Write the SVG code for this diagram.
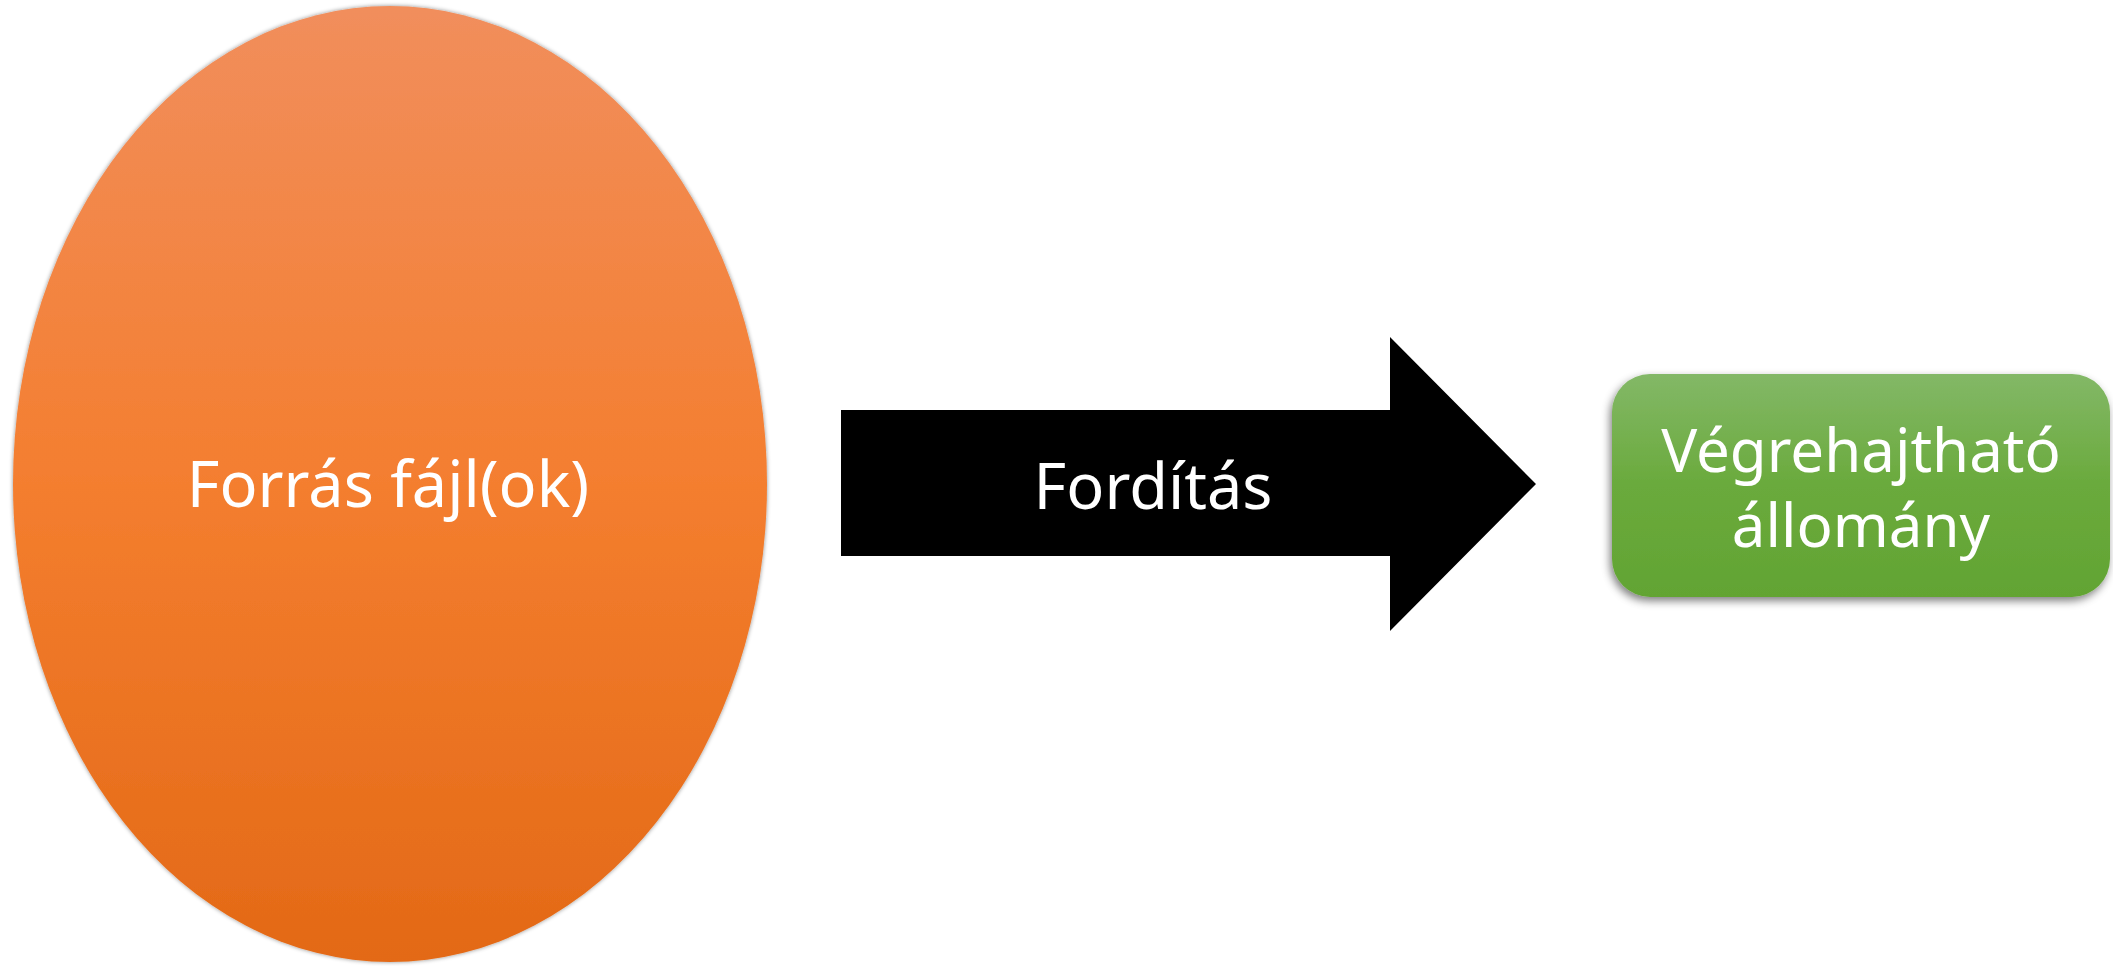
<svg xmlns="http://www.w3.org/2000/svg" width="2113" height="966" viewBox="0 0 2113 966">
<defs>
<linearGradient id="gOrange" x1="0" y1="0" x2="0" y2="1">
<stop offset="0" stop-color="#F18E5C"/>
<stop offset="0.5" stop-color="#F47E2F"/>
<stop offset="1" stop-color="#E36916"/>
</linearGradient>
<linearGradient id="gGreen" x1="0" y1="0" x2="0" y2="1">
<stop offset="0" stop-color="#83B867"/>
<stop offset="0.5" stop-color="#6AAA3C"/>
<stop offset="1" stop-color="#62A433"/>
</linearGradient>
<filter id="soft" x="-5%" y="-5%" width="110%" height="110%">
<feGaussianBlur in="SourceAlpha" stdDeviation="2"/>
<feOffset dx="0" dy="0" result="b"/>
<feFlood flood-color="#000" flood-opacity="0.45"/>
<feComposite in2="b" operator="in"/>
<feMerge><feMergeNode/><feMergeNode in="SourceGraphic"/></feMerge>
</filter>
<filter id="shadow" x="-10%" y="-10%" width="120%" height="130%">
<feGaussianBlur in="SourceAlpha" stdDeviation="4"/>
<feOffset dx="-2" dy="4" result="b"/>
<feFlood flood-color="#000" flood-opacity="0.5"/>
<feComposite in2="b" operator="in"/>
<feMerge><feMergeNode/><feMergeNode in="SourceGraphic"/></feMerge>
</filter>
</defs>
<style>
.lbl{font-family:"Noto Sans","Open Sans","DejaVu Sans",sans-serif;font-size:63px;fill:#FFFFFF;text-anchor:middle}
.lbl2{font-size:60px}
</style>
<rect width="2113" height="966" fill="#FFFFFF"/>
<g id="source">
<ellipse cx="390" cy="484" rx="377" ry="478" fill="url(#gOrange)" filter="url(#soft)"/>
<text class="lbl" x="388" y="507">Forrás fájl(ok)</text>
</g>
<g id="connectors">
<g id="compile">
<polygon points="841,410 1390,410 1390,337 1536,484 1390,631 1390,556 841,556" fill="#000000"/>
<text class="lbl" x="1153" y="509">Fordítás</text>
</g>
</g>
<g id="executable">
<rect x="1612" y="374" width="498" height="223" rx="38" ry="38" fill="url(#gGreen)" filter="url(#shadow)"/>
<text class="lbl lbl2" x="1861" y="472">Végrehajtható</text>
<text class="lbl lbl2" x="1861" y="547">állomány</text>
</g>
</svg>
